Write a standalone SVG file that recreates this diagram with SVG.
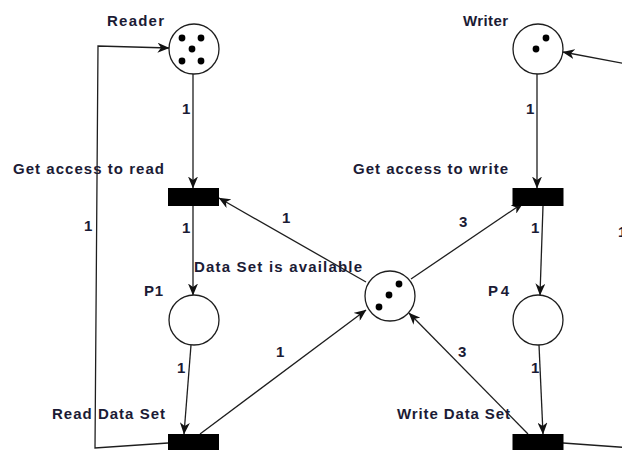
<svg xmlns="http://www.w3.org/2000/svg" width="622" height="450" viewBox="0 0 622 450">
<defs>
<style>
.pl{fill:#fff;stroke:#1e1e1e;stroke-width:1.3}
.tr{fill:#000;stroke:#000;stroke-width:1}
.tk{fill:#000}
.ln{fill:none;stroke:#1e1e1e;stroke-width:1.3}
.ar{marker-end:url(#ah)}
text{font-family:"Liberation Sans",Arial,sans-serif;font-weight:bold;font-size:15px;fill:#1b1b35}
</style>
<marker id="ah" viewBox="0 0 12 10" markerWidth="12" markerHeight="10" refX="11.5" refY="5" orient="auto" markerUnits="userSpaceOnUse">
<path d="M0,0 L12,5 L0,10 L3.5,5 Z" fill="#111"/>
</marker>
</defs>
<rect width="622" height="450" fill="#fff"/>
<g id="connectors">
<path class="ln ar" d="M193,74 L193,188"/>
<path class="ln ar" d="M193,206 L193,295"/>
<path class="ln ar" d="M191,345 L184,434"/>
<path class="ln ar" d="M168,443 L95,448 L98,46 L169,48"/>
<path class="ln ar" d="M366,282 L219,198"/>
<path class="ln ar" d="M411,279 L523,203"/>
<path class="ln ar" d="M537,74 L537,188"/>
<path class="ln ar" d="M543,206 L540,295"/>
<path class="ln ar" d="M539,345 L543,434"/>
<path class="ln ar" d="M528,434 L409,313"/>
<path class="ln ar" d="M200,434 L366,310"/>
<path class="ln ar" d="M632,65 L563,52"/>
<path class="ln" d="M563,443 L632,448"/>
<text x="182" y="114">1</text>
<text x="182" y="233">1</text>
<text x="84" y="231">1</text>
<text x="177" y="373">1</text>
<text x="282" y="223">1</text>
<text x="276" y="357">1</text>
<text x="526" y="114">1</text>
<text x="459" y="227">3</text>
<text x="531" y="233">1</text>
<text x="531" y="373">1</text>
<text x="458" y="357">3</text>
<text x="618" y="237">1</text>
</g>
<g id="reader">
<circle class="pl" cx="194" cy="49" r="25"/>
<circle class="tk" cx="182" cy="38" r="3.4"/>
<circle class="tk" cx="201" cy="38" r="3.4"/>
<circle class="tk" cx="192" cy="49" r="3.4"/>
<circle class="tk" cx="182" cy="61" r="3.4"/>
<circle class="tk" cx="201" cy="61" r="3.4"/>
<text x="107" y="26" textLength="57" lengthAdjust="spacing">Reader</text>
</g>
<g id="writer">
<circle class="pl" cx="538" cy="49" r="25"/>
<circle class="tk" cx="546" cy="38" r="3.4"/>
<circle class="tk" cx="536" cy="49" r="3.4"/>
<text x="463" y="26" textLength="45" lengthAdjust="spacing">Writer</text>
</g>
<g id="get-access-read">
<rect class="tr" x="168.5" y="188.5" width="50" height="17"/>
<text x="13" y="174" textLength="151" lengthAdjust="spacing">Get access to read</text>
</g>
<g id="get-access-write">
<rect class="tr" x="513" y="188.5" width="50" height="17"/>
<text x="353" y="174" textLength="155" lengthAdjust="spacing">Get access to write</text>
</g>
<g id="p1">
<circle class="pl" cx="194" cy="320" r="25"/>
<text x="144" y="296" textLength="19" lengthAdjust="spacing">P1</text>
</g>
<g id="p4">
<circle class="pl" cx="538" cy="320" r="25"/>
<text x="488" y="296" textLength="21" lengthAdjust="spacing">P4</text>
</g>
<g id="data-set-available">
<circle class="pl" cx="390" cy="296" r="25"/>
<circle class="tk" cx="399" cy="284" r="3.4"/>
<circle class="tk" cx="389" cy="295" r="3.4"/>
<circle class="tk" cx="379" cy="307" r="3.4"/>
<text x="194" y="272" textLength="168" lengthAdjust="spacing">Data Set is available</text>
</g>
<g id="read-data-set">
<rect class="tr" x="168.5" y="434.5" width="50" height="20"/>
<text x="52" y="419" textLength="113" lengthAdjust="spacing">Read Data Set</text>
</g>
<g id="write-data-set">
<rect class="tr" x="513" y="434.5" width="50" height="20"/>
<text x="397" y="419" textLength="113" lengthAdjust="spacing">Write Data Set</text>
</g>
</svg>
